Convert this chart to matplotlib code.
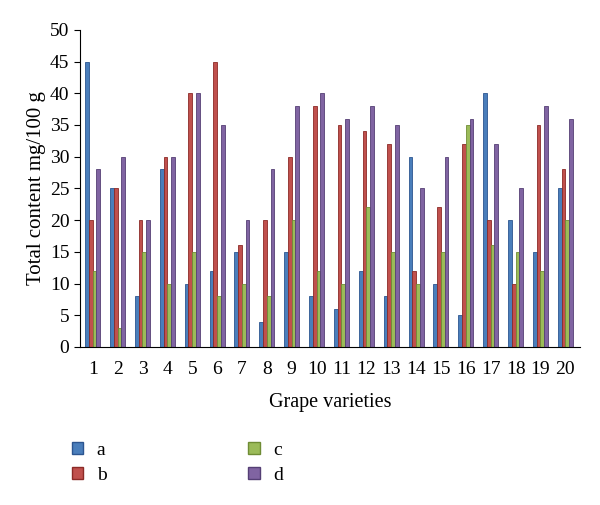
import numpy as np
import matplotlib.pyplot as plt
from matplotlib.patches import Patch

plt.rcParams['font.family'] = ['Liberation Serif', 'DejaVu Serif']

varieties = [str(i) for i in range(1, 21)]
a = [45, 25, 8, 28, 10, 12, 15, 4, 15, 8, 6, 12, 8, 30, 10, 5, 40, 20, 15, 25]
b = [20, 25, 20, 30, 40, 45, 16, 20, 30, 38, 35, 34, 32, 12, 22, 32, 20, 10, 35, 28]
c = [12, 3, 15, 10, 15, 8, 10, 8, 20, 12, 10, 22, 15, 10, 15, 35, 16, 15, 12, 20]
d = [28, 30, 20, 30, 40, 35, 20, 28, 38, 40, 36, 38, 35, 25, 30, 36, 32, 25, 38, 36]

series = [('a', a, '#4a7ebb', '#2c5590'),
          ('b', b, '#c0504d', '#8c2a27'),
          ('c', c, '#9bbb59', '#6f8c35'),
          ('d', d, '#8064a2', '#553f75')]

fig = plt.figure(figsize=(6, 5.05), dpi=100)
ax = fig.add_axes([0.133, 0.313, 0.834, 0.628])

x = np.arange(1, len(varieties) + 1)
w = 0.15
handles = []
for k, (name, vals, col, edge) in enumerate(series):
    pos = x + (k - 1.5) * w
    ax.bar(pos, vals, width=w, color=col, edgecolor=edge, linewidth=0.6)
    handles.append(Patch(facecolor=col, edgecolor=edge, label=name))

ax.set_xlim(0.48, 20.6)
ax.set_ylim(0, 50)
ax.set_yticks(range(0, 51, 5))
ax.set_xticks(x)
ax.set_xticklabels(varieties)
ax.tick_params(axis='x', length=0, labelsize=14, pad=10)
ax.tick_params(axis='y', labelsize=14, direction='out', length=4)
for s in ['top', 'right']:
    ax.spines[s].set_visible(False)
ax.set_xlabel('Grape varieties', fontsize=14.5, labelpad=11)
ax.set_ylabel('Total content mg/100 g', fontsize=15, labelpad=3)

fig.legend(handles=handles, ncol=2, loc='upper left', bbox_to_anchor=(0.09, 0.16),
           frameon=False, fontsize=14, handlelength=0.6, handleheight=0.6,
           columnspacing=7.3, labelspacing=0.4, handletextpad=0.7)

fig.savefig('out.png', dpi=100)
